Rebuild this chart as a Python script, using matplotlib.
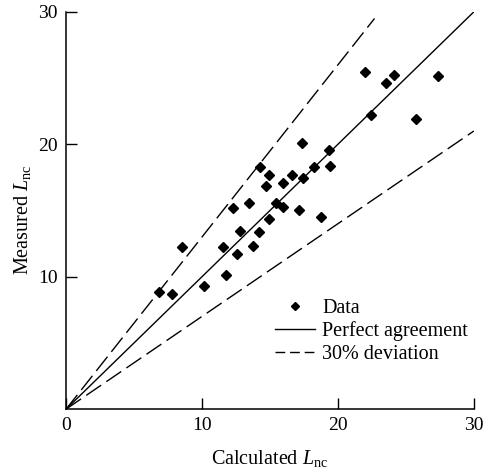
import matplotlib
matplotlib.use("Agg")
import matplotlib.pyplot as plt
import numpy as np

# values
calculated = [6.82, 7.79, 8.51, 10.17, 11.76, 11.54, 12.6, 12.79, 13.77, 14.2,
              14.95, 15.42, 12.3, 13.43, 14.29, 14.95, 14.68, 15.98, 16.59, 17.45,
              18.21, 19.41, 19.31, 17.35, 15.98, 17.16, 18.77, 22.43, 25.76, 21.96,
              23.53, 24.09, 27.4]
measured = [8.82, 8.67, 12.22, 9.30, 10.10, 12.24, 11.74, 13.45, 12.29, 13.4,
            14.33, 15.54, 15.22, 15.54, 18.27, 17.69, 16.86, 17.06, 17.71, 17.46,
            18.27, 18.32, 19.53, 20.13, 15.29, 15.02, 14.49, 22.2, 21.9, 25.42,
            24.62, 25.25, 25.12]
deviation = 0.30
x_ticks = [0, 10, 20, 30]
y_ticks = [10, 20, 30]

plt.rcParams["font.family"] = ["Liberation Serif", "DejaVu Serif"]
plt.rcParams["mathtext.fontset"] = "custom"
plt.rcParams["mathtext.rm"] = "Liberation Serif"
plt.rcParams["mathtext.it"] = "Liberation Serif:italic"

fig = plt.figure(figsize=(4.9, 4.74), dpi=100)
ax = fig.add_axes([0.135, 0.137, 0.832, 0.838])

line_x = np.array([0.0, 30.0])
ax.plot(calculated, measured, "D", color="black", markersize=5.2,
        linestyle="none", label="Data")
ax.plot(line_x, line_x, color="black", linewidth=1.0, label="Perfect agreement")
upper_x = np.array([0.0, 29.5 / (1 + deviation)])
ax.plot(upper_x, upper_x * (1 + deviation), color="black", linewidth=1.0,
        dashes=(13, 4.5), label="30% deviation")
ax.plot(line_x, line_x * (1 - deviation), color="black", linewidth=1.0,
        dashes=(13, 4.5))

ax.set_xlim(0, 30)
ax.set_ylim(0, 30)
ax.set_xticks(x_ticks)
ax.set_yticks(y_ticks)
ax.tick_params(direction="in", length=8, width=1, labelsize=14, pad=6)
ax.spines["top"].set_visible(False)
ax.spines["right"].set_visible(False)
for side in ("left", "bottom"):
    ax.spines[side].set_linewidth(1.1)

ax.set_xlabel(r"Calculated $L_{\mathrm{nc}}$", fontsize=14.5, labelpad=10)
ax.set_ylabel(r"Measured $L_{\mathrm{nc}}$", fontsize=14.5)
ax.yaxis.set_label_coords(-0.081, 0.476)

leg = ax.legend(loc="lower right", bbox_to_anchor=(1.03, 0.068), frameon=False,
                fontsize=14.5, handlelength=2.0, labelspacing=0.18,
                handletextpad=0.35, markerscale=0.75)
for handle in leg.legend_handles[2:]:
    handle.set_dashes((7, 3.5))

fig.savefig("out.png", dpi=100)
